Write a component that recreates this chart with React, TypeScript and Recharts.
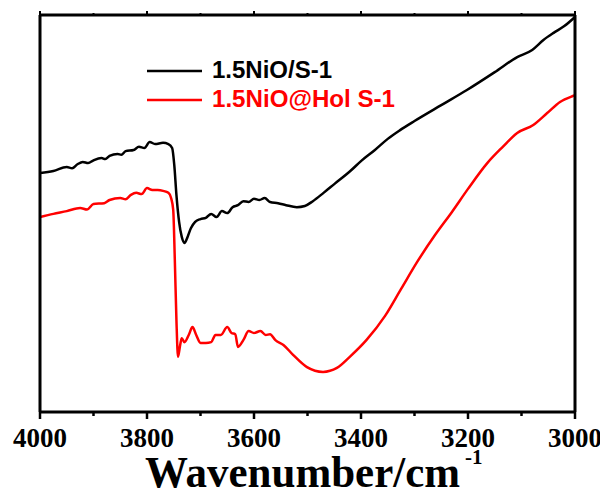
import { LineChart, Line, XAxis, YAxis, Customized } from "recharts";

// wavenumber (cm-1) and transmittance-like values
const niosWavenumber = [
  4000, 3975, 3950, 3940, 3930, 3920, 3910, 3900, 3885, 3878, 3870, 3855, 3848, 3840, 3825,
  3815, 3805, 3795, 3785, 3770, 3760, 3753, 3749, 3745, 3740, 3735, 3730, 3725, 3718, 3710,
  3700, 3690, 3680, 3670, 3660, 3650, 3640, 3630, 3620, 3610, 3600, 3590, 3580, 3570, 3555,
  3540, 3520, 3505, 3490, 3470, 3450, 3420, 3400, 3374, 3350, 3327, 3300, 3250, 3202, 3150,
  3108, 3080, 3059, 3040, 3020, 3000,
];
const niosValue = [
  60.2, 60.7, 61.7, 61.4, 62.4, 63.0, 62.7, 63.4, 64.0, 63.7, 64.5, 65.0, 64.8, 65.7, 66.0,
  66.8, 66.5, 68.0, 67.5, 67.8, 67.5, 66.5, 62.2, 54.7, 47.9, 44.1, 42.6, 43.8, 46.3, 47.9,
  48.6, 48.9, 49.9, 49.1, 50.6, 50.1, 51.6, 52.1, 53.1, 52.9, 53.7, 53.4, 53.9, 52.9, 52.6,
  52.1, 51.6, 51.9, 53.1, 55.2, 57.4, 60.7, 63.2, 66.0, 68.8, 71.0, 73.3, 77.3, 81.1, 85.6,
  89.4, 91.2, 93.7, 95.5, 97.2, 99.5,
];

const holWavenumber = [
  4000, 3975, 3950, 3925, 3912, 3900, 3880, 3870, 3850, 3840, 3830, 3820, 3810, 3800, 3790,
  3780, 3770, 3760, 3755, 3751, 3748, 3745, 3742, 3738, 3735, 3730, 3722, 3715, 3708, 3700,
  3690, 3680, 3672, 3662, 3650, 3642, 3635, 3630, 3620, 3610, 3600, 3588, 3578, 3570, 3560,
  3545, 3527, 3501, 3471, 3445, 3421, 3390, 3355, 3325, 3295, 3262, 3230, 3200, 3164, 3135,
  3108, 3078, 3052, 3028, 3004, 3000,
];
const holValue = [
  49.1, 49.9, 50.6, 51.4, 51.0, 52.4, 52.6, 53.4, 53.9, 53.6, 54.7, 55.2, 54.9, 56.4, 55.9,
  55.9, 55.7, 55.2, 53.9, 50.9, 38.3, 23.2, 13.9, 16.9, 18.6, 17.6, 19.4, 21.4, 19.4, 17.4,
  17.4, 17.6, 19.4, 19.4, 21.4, 19.9, 19.6, 16.4, 18.1, 20.4, 19.9, 20.4, 19.4, 19.6, 18.1,
  16.9, 14.4, 11.3, 10.1, 11.1, 13.9, 18.1, 24.2, 31.0, 37.8, 44.5, 50.4, 56.2, 62.7, 66.8,
  70.3, 72.3, 75.3, 78.1, 79.6, 79.8,
];

const xTicks = [4000, 3900, 3800, 3700, 3600, 3500, 3400, 3300, 3200, 3100, 3000];
const yTicks = [0, 50, 100];

const niosData = niosWavenumber.map((w, i) => ({ w, v: niosValue[i] }));
const holData = holWavenumber.map((w, i) => ({ w, v: holValue[i] }));

const serif = '"Liberation Serif", "Times New Roman", serif';
const sans = '"Liberation Sans", Arial, sans-serif';

const BottomTick = ({ x, y, payload }: any) => {
  const major = payload.value % 200 === 0;
  return (
    <g>
      <line x1={x} x2={x} y1={y} y2={y + (major ? 7 : 4)} stroke="#000" strokeWidth={2.5} />
      {major && (
        <text x={x} y={y + 35} textAnchor="middle" fontFamily={serif} fontWeight="bold" fontSize={27} fill="#000">
          {payload.value}
        </text>
      )}
    </g>
  );
};

const TopTick = ({ x, y, payload }: any) => {
  const major = payload.value % 200 === 0;
  return <line x1={x} x2={x} y1={y} y2={y - (major ? 4 : 2)} stroke="#000" strokeWidth={2} />;
};

const Overlay = () => (
  <g>
    <line x1={139} x2={194} y1={63} y2={63} stroke="#000" strokeWidth={2.5} />
    <text x={204} y={70} fontFamily={sans} fontWeight="bold" fontSize={24} fill="#000" textLength={120} lengthAdjust="spacingAndGlyphs">
      1.5NiO/S-1
    </text>
    <line x1={139} x2={194} y1={92} y2={92} stroke="#ff0000" strokeWidth={2.5} />
    <text x={204} y={99} fontFamily={sans} fontWeight="bold" fontSize={24} fill="#ff0000" textLength={183} lengthAdjust="spacingAndGlyphs">
      1.5NiO@Hol S-1
    </text>
    <text x={137} y={479} fontFamily={serif} fontWeight="bold" fontSize={44} fill="#000" textLength={315} lengthAdjust="spacingAndGlyphs">
      Wavenumber/cm
    </text>
    <text x={457} y={456} fontFamily={serif} fontWeight="bold" fontSize={21} fill="#000">
      -1
    </text>
  </g>
);

export default function App() {
  return (
    <LineChart width={600} height={488} margin={{ top: 3, right: 29, left: 28, bottom: 34 }}>
      <XAxis
        type="number"
        dataKey="w"
        domain={[3000, 4000]}
        reversed
        allowDataOverflow
        ticks={xTicks}
        interval={0}
        height={50}
        tickSize={0}
        tickMargin={0}
        tickLine={false}
        axisLine={{ stroke: "#000", strokeWidth: 3 }}
        tick={<BottomTick />}
      />
      <XAxis
        xAxisId="top"
        orientation="top"
        type="number"
        dataKey="w"
        domain={[3000, 4000]}
        reversed
        allowDataOverflow
        ticks={xTicks}
        interval={0}
        height={4}
        tickSize={0}
        tickMargin={0}
        tickLine={false}
        axisLine={{ stroke: "#000", strokeWidth: 3 }}
        tick={<TopTick />}
      />
      <YAxis
        type="number"
        domain={[0, 100]}
        ticks={yTicks}
        width={4}
        tickSize={3}
        tick={false}
        tickLine={{ stroke: "#000", strokeWidth: 2 }}
        axisLine={{ stroke: "#000", strokeWidth: 3 }}
      />
      <YAxis
        yAxisId="right"
        orientation="right"
        type="number"
        domain={[0, 100]}
        ticks={yTicks}
        width={4}
        tickSize={3}
        tick={false}
        tickLine={{ stroke: "#000", strokeWidth: 2 }}
        axisLine={{ stroke: "#000", strokeWidth: 3 }}
      />
      <Line data={niosData} dataKey="v" type="monotone" stroke="#000" strokeWidth={2.5} dot={false} isAnimationActive={false} />
      <Line data={holData} dataKey="v" type="monotone" stroke="#ff0000" strokeWidth={2.5} dot={false} isAnimationActive={false} />
      <Customized component={Overlay} />
    </LineChart>
  );
}
